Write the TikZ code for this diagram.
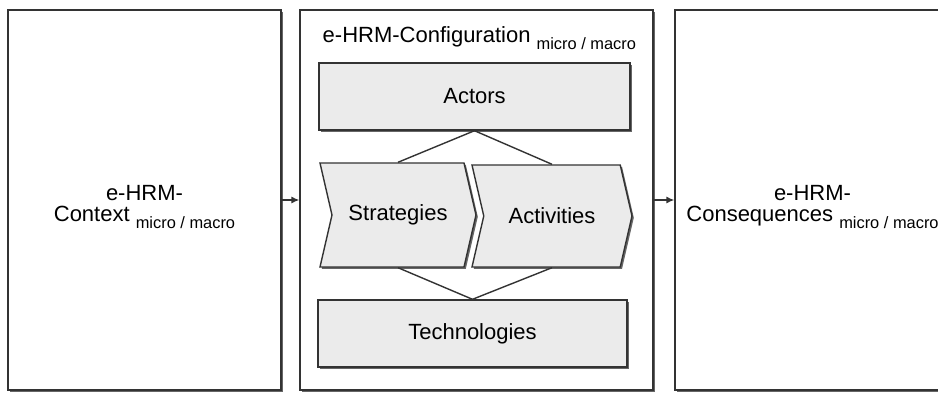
\documentclass[tikz,border=0pt]{standalone}
\usepackage{fontspec}
\setmainfont{Liberation Sans}
\usetikzlibrary{arrows.meta,shapes.symbols,shadows}
\newcommand{\mima}{\raisebox{-3.5pt}{\fontsize{8.2}{9}\selectfont micro / macro}}

\begin{document}
\begin{tikzpicture}[x=1pt,y=1pt]
\tikzstyle{main}=[rectangle, draw=black!80, line width=0.7pt, inner sep=0pt, font=\fontsize{11}{10.5}\selectfont]
\tikzstyle{panel}=[main, fill=white, drop shadow={shadow xshift=0.9pt, shadow yshift=-0.9pt, fill=black!60, opacity=1}]
\tikzstyle{block}=[panel, fill=black!8]
\tikzstyle{chev}=[block, signal, signal from=west, signal to=east, signal pointer angle=154]
\tikzstyle{txt}=[main, draw=none, align=center]
\tikzstyle{connect}=[-{Latex[length=4pt, width=3.6pt]}, line width=0.7pt, draw=black!80]
\tikzstyle{link}=[line width=0.7pt, draw=black!80]

  \useasboundingbox (0,0) rectangle (469,196);

  \node[panel, minimum width=136.5pt, minimum height=190pt] (ctx)  at (72.25,96)  {};
  \node[panel, minimum width=176.5pt, minimum height=190pt] (conf) at (238.25,96) {};
  \node[panel, minimum width=137.5pt, minimum height=190pt] (cons) at (406.25,96) {};

  \node[txt] (ctxlbl)  at ([yshift=-3.5pt]ctx.center)  {e-HRM-\\Context \mima};
  \node[txt] (conslbl) at ([yshift=-3.5pt]cons.center) {e-HRM-\\Consequences \mima};
  \node[txt, anchor=base west] (title) at (161,175) {e-HRM-Configuration \mima};

  \node[block, minimum width=155.5pt, minimum height=33.5pt] (actors) at (237.25,147.75) {Actors};
  \node[chev,  minimum width=78pt,    minimum height=52pt]   (strat)  at (199,88.5)      {Strategies};
  \node[chev,  minimum width=80pt,    minimum height=51pt]   (activ)  at (276,88)        {Activities};
  \node[block, minimum width=154.5pt, minimum height=33.5pt] (tech)   at (236.25,29.25)  {Technologies};

  \path (ctx)  edge [connect] (conf);
  \path (conf) edge [connect] (cons);

  \path (actors.south) edge [link] (strat.north);
  \path (actors.south) edge [link] (activ.north);
  \path (tech.north)   edge [link] (strat.south);
  \path (tech.north)   edge [link] (activ.south);

\end{tikzpicture}
\end{document}
